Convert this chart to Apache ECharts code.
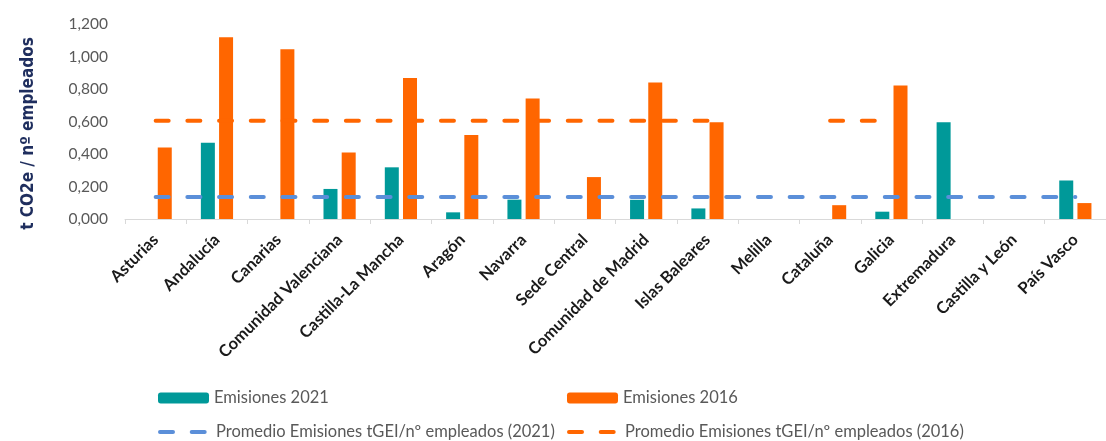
<!DOCTYPE html>
<html>
<head>
<meta charset="utf-8">
<script src="https://cdn.jsdelivr.net/npm/echarts@6/dist/echarts.min.js"></script>
<style>
html,body{margin:0;padding:0;background:#fff;}
#chart{width:1106px;height:441px;}
</style>
</head>
<body>
<div id="chart"></div>
<script>
const categories = ['Asturias','Andalucía','Canarias','Comunidad Valenciana','Castilla-La Mancha','Aragón','Navarra','Sede Central','Comunidad de Madrid','Islas Baleares','Melilla','Cataluña','Galicia','Extremadura','Castilla y León','País Vasco'];
const emisiones2021 = [null,0.47,null,0.185,0.318,0.041,0.119,null,0.118,0.065,null,null,0.045,0.595,null,0.237];
const emisiones2016 = [0.44,1.118,1.045,0.41,0.868,0.517,0.742,0.258,0.84,0.596,null,0.085,0.822,null,null,0.098];
const promedio2021 = [0.135,0.135,0.135,0.135,0.135,0.135,0.135,0.135,0.135,0.135,0.135,0.135,0.135,0.135,0.135,0.135];
const promedio2016 = [0.605,0.605,0.605,0.605,0.605,0.605,0.605,0.605,0.605,0.605,null,0.605,0.605,null,null,null];
const yTicks = {min:0, max:1.2, interval:0.2};

const names = ['Emisiones 2021','Emisiones 2016','Promedio Emisiones tGEI/nº empleados (2021)','Promedio Emisiones tGEI/nº empleados (2016)'];
const TEAL = '#009999', ORANGE = '#FF6600', BLUE = '#5B8FD9';
const DASH = [13, 18.7];

const chart = echarts.init(document.getElementById('chart'), null, {renderer:'canvas'});
function leg(name, left, top, isLine){
  const o = {
    data:[name], left:left, top:top, orient:'horizontal',
    itemWidth:51, itemHeight:11, itemGap:0, padding:0,
    textStyle:{fontFamily:'Lato, sans-serif', fontSize:16.5, color:'#595959', lineHeight:18}
  };
  if (isLine) {
    o.itemStyle = {opacity:0};
    o.lineStyle = {width:4, type:DASH, cap:'round'};
  }
  return o;
}
chart.setOption({
  animation:false,
  grid:{left:125, top:24, width:990, height:195, containLabel:false},
  legend:[
    leg(names[0], 158, 389, false),
    leg(names[1], 567, 389, false),
    leg(names[2], 158, 423, true),
    leg(names[3], 567, 423, true)
  ],
  xAxis:{
    type:'category', data:categories, boundaryGap:true,
    axisLine:{show:true, lineStyle:{color:'#d9d9d9', width:1}},
    axisTick:{show:true, length:5, lineStyle:{color:'#d9d9d9'}},
    axisLabel:{interval:0, rotate:45, margin:18, padding:[14,0,0,0], fontFamily:'Lato, sans-serif', fontWeight:'bold', fontSize:16.5, color:'#1a1a1a'}
  },
  yAxis:{
    type:'value', min:yTicks.min, max:yTicks.max, interval:yTicks.interval,
    name:'t CO2e / nº empleados', nameLocation:'middle', nameRotate:90, nameGap:88,
    nameTextStyle:{fontFamily:"'Liberation Sans Narrow', 'DejaVu Sans Condensed', sans-serif", fontWeight:'bold', fontSize:17, color:'#1f2e5e', padding:[0,24,0,0]},
    axisLine:{show:false}, axisTick:{show:false}, splitLine:{show:false},
    axisLabel:{margin:17, fontFamily:'Lato, sans-serif', fontSize:15.5, color:'#595959',
      formatter:v => v.toFixed(3).replace('.', ',')}
  },
  series:[
    {name:names[0], type:'bar', data:emisiones2021, barWidth:14, barGap:'30%', itemStyle:{color:TEAL}},
    {name:names[1], type:'bar', data:emisiones2016, barWidth:14, barGap:'30%', itemStyle:{color:ORANGE}},
    {name:names[2], type:'line', data:promedio2021, symbol:'none', showSymbol:false, connectNulls:false,
      lineStyle:{color:BLUE, width:4, type:DASH, cap:'round'}, itemStyle:{color:BLUE}},
    {name:names[3], type:'line', data:promedio2016, symbol:'none', showSymbol:false, connectNulls:false,
      lineStyle:{color:ORANGE, width:4, type:DASH, cap:'round'}, itemStyle:{color:ORANGE}}
  ]
});
</script>
</body>
</html>
